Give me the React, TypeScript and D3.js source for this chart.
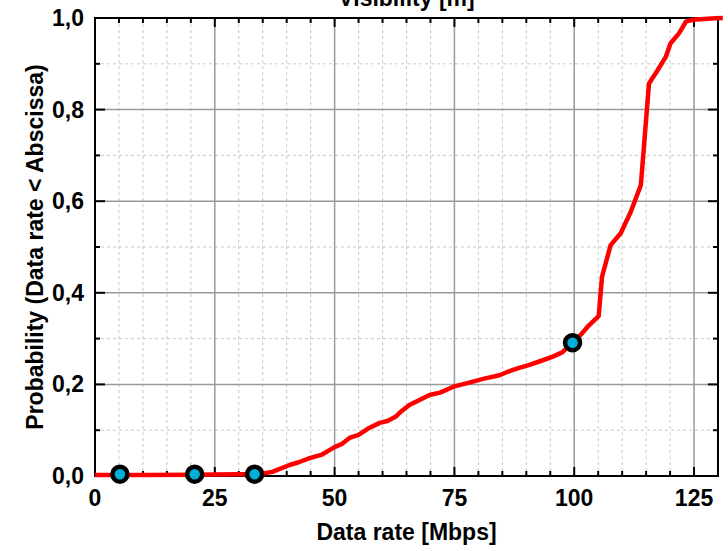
import * as d3 from "d3";

// CDF
const rateMbps = [0, 10, 20, 30, 33.5, 35.4, 37, 40.6, 42.5, 44.8, 47.2, 50, 51.5, 53.1, 55, 56.9, 59.4, 61, 62.8, 64, 65.6, 67.7, 69.8, 72, 74.8, 78.1, 81, 84.4, 86.5, 88.5, 90.5, 92.7, 95.4, 97.5, 99.65, 101.5, 102.8, 105.1, 105.8, 107.6, 109.7, 111.8, 113.9, 115.6, 117.4, 119.1, 120.1, 121.9, 123.3, 124.7, 129.5, 131];
const probability = [0.002, 0.002, 0.003, 0.004, 0.004, 0.006, 0.009, 0.024, 0.03, 0.039, 0.046, 0.063, 0.07, 0.083, 0.09, 0.103, 0.116, 0.12, 0.13, 0.142, 0.155, 0.166, 0.177, 0.182, 0.195, 0.204, 0.212, 0.22, 0.229, 0.236, 0.242, 0.25, 0.26, 0.27, 0.291, 0.31, 0.326, 0.349, 0.435, 0.504, 0.53, 0.577, 0.635, 0.857, 0.886, 0.915, 0.945, 0.967, 0.992, 0.996, 0.9995, 1.0];

// highlighted points
const markerRate = [5.2, 20.8, 33.3, 99.65];
const markerProb = [0.004, 0.004, 0.004, 0.291];

const xMajor = [0, 25, 50, 75, 100, 125];
const yMajor = [0, 0.2, 0.4, 0.6, 0.8, 1.0];

const W = 728, H = 551;
const margin = { top: 18, right: 10, bottom: 75, left: 95 };
const font = "'Liberation Sans', Arial, sans-serif";

export default function App() {
  const x = d3.scaleLinear().domain([0, 130]).range([margin.left, W - margin.right]);
  const y = d3.scaleLinear().domain([0, 1]).range([H - margin.bottom, margin.top]);
  const [x0, x1] = x.range();
  const [y0, y1] = y.range();

  const xMinor = d3.range(5, 130, 5).filter(v => v % 25 !== 0);
  const yMinor = d3.range(1, 10, 2).map(v => v / 10);
  const fmt = (v: number) => d3.format(".1f")(v).replace(".", ",");

  const line = d3.line<number>()
    .x((d, i) => x(rateMbps[i]))
    .y(d => y(d));

  return (
    <svg width={W} height={H} style={{ position: "absolute", left: 0, top: 0 }}>
      <rect width={W} height={H} fill="#fff" />
      {/* minor grid */}
      {xMinor.map(v => (
        <line key={"gx" + v} x1={x(v)} x2={x(v)} y1={y1} y2={y0} stroke="#c8c8c8" strokeDasharray="3,3" />
      ))}
      {yMinor.map(v => (
        <line key={"gy" + v} x1={x0} x2={x1} y1={y(v)} y2={y(v)} stroke="#c8c8c8" strokeDasharray="3,3" />
      ))}
      {/* major grid */}
      {xMajor.slice(1).map(v => (
        <line key={"Gx" + v} x1={x(v)} x2={x(v)} y1={y1} y2={y0} stroke="#9a9a9a" strokeWidth={1.5} />
      ))}
      {yMajor.slice(1, -1).map(v => (
        <line key={"Gy" + v} x1={x0} x2={x1} y1={y(v)} y2={y(v)} stroke="#9a9a9a" strokeWidth={1.5} />
      ))}
      {/* ticks */}
      {xMajor.concat(xMinor).map(v => {
        const len = v % 25 === 0 ? 9 : 5;
        return (
          <g key={"tx" + v} stroke="#000" strokeWidth={2}>
            <line x1={x(v)} x2={x(v)} y1={y0} y2={y0 - len} />
            <line x1={x(v)} x2={x(v)} y1={y1} y2={y1 + len} />
          </g>
        );
      })}
      {yMajor.concat(yMinor).map(v => {
        const len = Math.abs(v * 10 % 2) < 0.01 ? 10 : 5;
        return (
          <g key={"ty" + v} stroke="#000" strokeWidth={2}>
            <line x1={x0} x2={x0 + len} y1={y(v)} y2={y(v)} />
            <line x1={x1} x2={x1 - len} y1={y(v)} y2={y(v)} />
          </g>
        );
      })}
      <rect x={x0} y={y1} width={x1 - x0} height={y0 - y1} fill="none" stroke="#000" strokeWidth={2} />
      {/* curve */}
      <path d={line(probability) || ""} fill="none" stroke="#ff0000" strokeWidth={4.5} strokeLinejoin="round" />
      {markerRate.map((v, i) => (
        <circle key={"m" + i} cx={x(v)} cy={y(markerProb[i])} r={7.5} fill="#00b0d8" stroke="#000" strokeWidth={4.5} />
      ))}
      {/* tick labels */}
      <g fontFamily={font} fontWeight="bold" fontSize={23} fill="#000">
        {xMajor.map(v => (
          <text key={"lx" + v} x={x(v)} y={y0 + 30} textAnchor="middle">{v}</text>
        ))}
        {yMajor.map(v => (
          <text key={"ly" + v} x={x0 - 11} y={y(v) + 8} textAnchor="end">{fmt(v)}</text>
        ))}
      </g>
      <g fontFamily={font} fontWeight="bold" fontSize={23} fill="#000" textAnchor="middle">
        <text x={(x0 + x1) / 2} y={540}>Data rate [Mbps]</text>
        <text transform={`translate(43,${(y0 + y1) / 2}) rotate(-90)`}>Probability (Data rate &lt; Abscissa)</text>
        <text x={(x0 + x1) / 2} y={6}>Visibility [m]</text>
      </g>
    </svg>
  );
}
